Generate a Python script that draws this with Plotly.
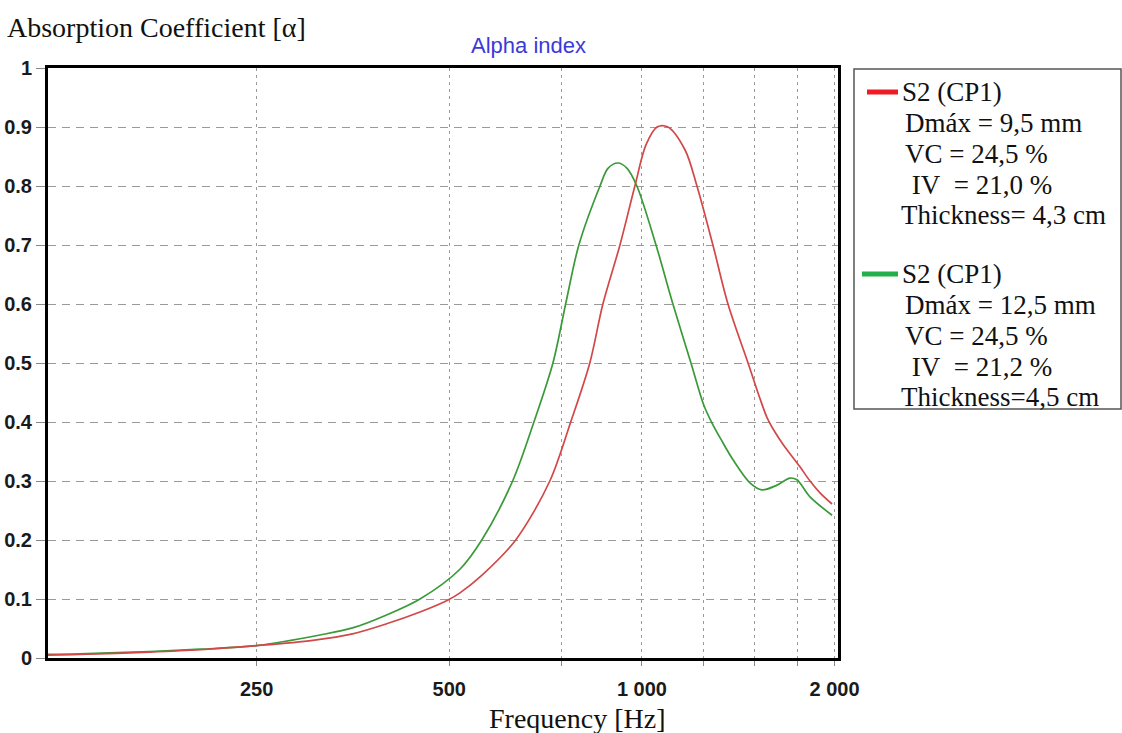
import math
import plotly.graph_objects as go

# Absorption coefficient vs frequency for the two S2 (CP1) specimens
freq_red = [118, 132, 170, 204, 250, 306, 353, 399, 450, 497, 519, 562, 635, 718, 774, 829,
            869, 924, 975, 1015, 1056, 1098, 1168, 1219, 1291, 1363, 1465, 1529, 1568, 1614,
            1662, 1766, 1831, 1898, 1982]
alpha_red = [0.005, 0.006, 0.010, 0.014, 0.021, 0.030, 0.041, 0.058, 0.078, 0.098, 0.110,
             0.140, 0.200, 0.300, 0.400, 0.500, 0.600, 0.700, 0.800, 0.870, 0.900, 0.900,
             0.861, 0.800, 0.700, 0.600, 0.500, 0.440, 0.408, 0.383, 0.362, 0.324, 0.300,
             0.280, 0.261]

freq_green = [118, 132, 170, 204, 250, 314, 353, 399, 450, 519, 562, 628, 678, 726,
              760, 797, 860, 885, 917, 948, 982, 1052, 1118, 1193, 1250, 1290, 1330, 1388,
              1475, 1540, 1626, 1704, 1747, 1831, 1982]
alpha_green = [0.006, 0.007, 0.011, 0.015, 0.021, 0.039, 0.051, 0.073, 0.100, 0.150,
               0.200, 0.300, 0.400, 0.500, 0.600, 0.700, 0.800, 0.830, 0.839, 0.830,
               0.800, 0.700, 0.600, 0.500, 0.428, 0.396, 0.370, 0.336, 0.297, 0.285, 0.293,
               0.305, 0.302, 0.273, 0.242]

x_grid = [250, 500, 750, 1000, 1250, 1500, 1750, 2000]
x_labels = ["250", "500", "", "1 000", "", "", "", "2 000"]
y_ticks = [0, 0.1, 0.2, 0.3, 0.4, 0.5, 0.6, 0.7, 0.8, 0.9, 1]
y_labels = ["0", "0.1", "0.2", "0.3", "0.4", "0.5", "0.6", "0.7", "0.8", "0.9", "1"]

legend_red = ["S2 (CP1)", "Dmáx = 9,5 mm", "VC = 24,5 %", " IV  = 21,0 %", "Thickness= 4,3 cm"]
legend_green = ["S2 (CP1)", "Dmáx = 12,5 mm", "VC = 24,5 %", " IV  = 21,2 %", "Thickness=4,5 cm"]

RED = "#d24848"
GREEN = "#3a9a3a"
SERIF = "Liberation Serif, Times New Roman, serif"
SANS = "Liberation Sans, Arial, sans-serif"

W, H = 1122, 733
L, R, T, B = 48, 838, 68, 658

fig = go.Figure()
fig.add_trace(go.Scatter(x=freq_green, y=alpha_green, mode="lines",
                         line=dict(color=GREEN, width=1.7, shape="spline", smoothing=0.9),
                         showlegend=False, hoverinfo="skip"))
fig.add_trace(go.Scatter(x=freq_red, y=alpha_red, mode="lines",
                         line=dict(color=RED, width=1.7, shape="spline", smoothing=0.9),
                         showlegend=False, hoverinfo="skip"))

tick_font = dict(family=SANS, size=20, color="#1a1a1a", weight="bold")
fig.update_layout(
    width=W, height=H,
    margin=dict(l=L, r=W - R, t=T, b=H - B, pad=0),
    paper_bgcolor="white", plot_bgcolor="white",
    xaxis=dict(type="log", range=[math.log10(118), math.log10(2025)],
               tickvals=x_grid, ticktext=x_labels, automargin=False,
               showgrid=True, gridcolor="#9a9a9a", gridwidth=1.4, griddash="3px,4px",
               ticks="outside", ticklen=5, tickcolor="#888", tickwidth=1,
               ticklabelstandoff=6, tickfont=tick_font,
               showline=True, linecolor="black", linewidth=3, mirror=True,
               zeroline=False),
    yaxis=dict(range=[0, 1], tickvals=y_ticks, ticktext=y_labels, automargin=False,
               showgrid=True, gridcolor="#9a9a9a", gridwidth=1.4, griddash="8px,6px",
               ticks="outside", ticklen=9, tickcolor="#888", tickwidth=1,
               tickfont=tick_font,
               showline=True, linecolor="black", linewidth=3, mirror=True,
               zeroline=False),
)


# paper coordinates span the plot area, so convert page pixels into that frame
def px_x(p):
    return (p - L) / (R - L)


def px_y(p):
    return (B - p) / (B - T)


# Axis captions and title
fig.add_annotation(text="Absorption Coefficient [α]", xref="paper", yref="paper",
                   x=px_x(5), y=px_y(27), xanchor="left", yanchor="middle", showarrow=False,
                   font=dict(family=SERIF, size=28, color="#111"))
fig.add_annotation(text="Alpha index", xref="paper", yref="paper",
                   x=px_x(528), y=px_y(45), xanchor="center", yanchor="middle", showarrow=False,
                   font=dict(family=SANS, size=22, color="#3a3ad8"))
fig.add_annotation(text="Frequency [Hz]", xref="paper", yref="paper",
                   x=px_x(577), y=px_y(718), xanchor="center", yanchor="middle", showarrow=False,
                   font=dict(family=SERIF, size=28, color="#111"))

# Legend box
fig.add_shape(type="rect", xref="paper", yref="paper",
              x0=px_x(854), x1=px_x(1121), y0=px_y(69), y1=px_y(409),
              line=dict(color="#555", width=1.5), fillcolor="white")


def legend_block(lines, color, y0, x_sample):
    fig.add_shape(type="line", xref="paper", yref="paper",
                  x0=px_x(x_sample), x1=px_x(898), y0=px_y(y0), y1=px_y(y0),
                  line=dict(color=color, width=5))
    xs = [900, 903, 903, 903, 899]
    offsets = [0, 31, 62, 93, 123]
    for txt, xx, dy in zip(lines, xs, offsets):
        fig.add_annotation(text=txt.replace(" ", "&nbsp;") if txt.startswith(" ") else txt,
                           xref="paper", yref="paper",
                           x=px_x(xx), y=px_y(y0 + dy), xanchor="left", yanchor="middle",
                           showarrow=False, font=dict(family=SERIF, size=27, color="#111"))


legend_block(legend_red, "#ee1c24", 92, 867)
legend_block(legend_green, "#22b04a", 274, 862)

fig.write_html("out.html")
